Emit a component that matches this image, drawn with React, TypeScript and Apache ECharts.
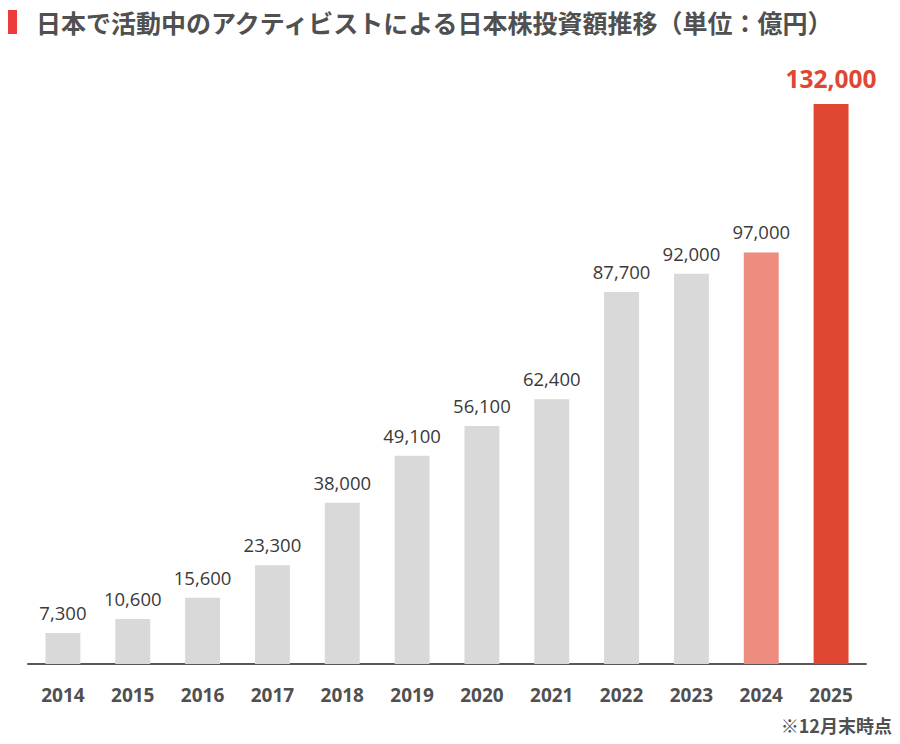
import React, { useEffect, useRef } from "react";
import * as echarts from "echarts";

const years = ["2014", "2015", "2016", "2017", "2018", "2019", "2020", "2021", "2022", "2023", "2024", "2025"];
const amounts = [7300, 10600, 15600, 23300, 38000, 49100, 56100, 62400, 87700, 92000, 97000, 132000];
const barColors = ["#d9d9d9", "#d9d9d9", "#d9d9d9", "#d9d9d9", "#d9d9d9", "#d9d9d9", "#d9d9d9", "#d9d9d9", "#d9d9d9", "#d9d9d9", "#ef8c80", "#e04631"];
const titleText = "日本で活動中のアクティビストによる日本株投資額推移（単位：億円）";
const noteText = "※12月末時点";

export default function App() {
  const ref = useRef<HTMLDivElement>(null);
  useEffect(() => {
    document.body.style.margin = "0";
    const chart = echarts.init(ref.current!, null, { renderer: "svg" });
    const numFont = "'Open Sans', 'Noto Sans', sans-serif";
    const jpFont = "'Noto Sans CJK JP', sans-serif";
    chart.setOption({
      animation: false,
      backgroundColor: "#ffffff",
      grid: { left: 28, right: 34, top: 70, bottom: 80, containLabel: false },
      xAxis: {
        type: "category",
        data: years,
        axisLine: { show: true, lineStyle: { color: "#595959", width: 2 } },
        axisTick: { show: false },
        axisLabel: { color: "#505050", fontSize: 19, fontWeight: "bold", fontFamily: numFont, margin: 21 },
      },
      yAxis: {
        type: "value",
        min: 0,
        max: 140000,
        show: false,
        splitLine: { show: false },
      },
      series: [
        {
          type: "bar",
          barWidth: "50%",
          data: amounts.map((v, i) => {
            const last = i === amounts.length - 1;
            return {
              value: v,
              itemStyle: { color: barColors[i] },
              label: last
                ? { color: "#e04631", fontSize: 24.5, fontWeight: "bold", distance: 13 }
                : undefined,
            };
          }),
          label: {
            show: true,
            position: "top",
            distance: 11,
            color: "#3a3a3a",
            fontSize: 18.5,
            fontFamily: numFont,
            formatter: (p: any) => Number(p.value).toLocaleString("en-US"),
          },
        },
      ],
      graphic: [
        { type: "rect", shape: { x: 8, y: 10, width: 9, height: 24 }, style: { fill: "#ee3b3b" } },
        {
          type: "text",
          x: 36,
          y: 22,
          style: {
            text: titleText,
            fill: "#505050",
            font: `bold 25px ${jpFont}`,
            verticalAlign: "middle",
            textAlign: "left",
          },
        },
        {
          type: "text",
          x: 892,
          y: 725,
          style: {
            text: noteText,
            fill: "#505050",
            font: `bold 18px ${jpFont}`,
            verticalAlign: "middle",
            textAlign: "right",
          },
        },
      ],
    });
    return () => chart.dispose();
  }, []);
  return <div ref={ref} style={{ width: 900, height: 744 }} />;
}
